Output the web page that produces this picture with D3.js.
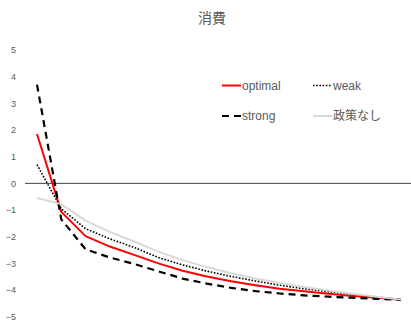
<!DOCTYPE html>
<html>
<head>
<meta charset="utf-8">
<script src="https://cdn.jsdelivr.net/npm/d3@7"></script>
<style>
  html, body { margin: 0; padding: 0; background: #fff; }
  svg { display: block; }
  text { font-family: "Liberation Sans", "Noto Sans CJK JP", sans-serif; }
</style>
</head>
<body>
<svg id="chart" width="411" height="324"></svg>
<script>
// Periods along the horizontal axis (not labelled)
const periods = d3.range(1, 17);

// Consumption paths per policy scenario
const optimal = [1.85, -1.07, -1.98, -2.37, -2.68, -3.00, -3.28, -3.49, -3.67, -3.82, -3.95, -4.05, -4.14, -4.22, -4.29, -4.36];
const weak    = [0.70, -0.95, -1.70, -2.08, -2.40, -2.78, -3.06, -3.29, -3.49, -3.66, -3.82, -3.95, -4.06, -4.16, -4.26, -4.35];
const strong  = [3.70, -1.35, -2.47, -2.78, -3.02, -3.30, -3.57, -3.76, -3.92, -4.04, -4.13, -4.20, -4.25, -4.29, -4.33, -4.37];
const noPolicy = [-0.55, -0.78, -1.40, -1.82, -2.18, -2.56, -2.88, -3.14, -3.37, -3.57, -3.74, -3.89, -4.02, -4.14, -4.25, -4.36];

const yTicks = [5, 4, 3, 2, 1, 0, -1, -2, -3, -4, -5];
const title = "消費";

const series = [
  { name: "optimal", values: optimal,  color: "#ff0000", width: 2,   dash: null,    lx: 222, ly: 85.5 },
  { name: "weak",    values: weak,     color: "#000000", width: 1.6, dash: "1.6,1.6", lx: 313, ly: 85.5 },
  { name: "strong",  values: strong,   color: "#000000", width: 2.2, dash: "7,5",   lx: 222, ly: 116 },
  { name: "政策なし", values: noPolicy, color: "#d9d9d9", width: 2,   dash: null,    lx: 313, ly: 116 }
];

const svg = d3.select("#chart");

const x = d3.scalePoint().domain(periods).range([37, 401]);
const y = d3.scaleLinear().domain([-5, 5]).range([316.7, 50]);

// Title
svg.append("text")
  .attr("x", 212).attr("y", 23)
  .attr("text-anchor", "middle")
  .attr("fill", "#595959")
  .style("font-size", "14px")
  .text(title);

// Value axis
const yAxis = d3.axisLeft(y).tickValues(yTicks).tickSize(0).tickPadding(0).tickFormat(d3.format("d"));
const gy = svg.append("g").attr("transform", "translate(16,0)").call(yAxis);
gy.select(".domain").remove();
gy.selectAll("text")
  .attr("fill", "#595959")
  .style("font-size", "9px")
  .style("font-family", "'Liberation Sans', sans-serif");

// Zero baseline
svg.append("line")
  .attr("x1", 25).attr("x2", 411)
  .attr("y1", y(0)).attr("y2", y(0))
  .attr("stroke", "#404040").attr("stroke-width", 1);

// Series lines
const line = d3.line()
  .x((d, i) => x(periods[i]))
  .y(d => y(d));

svg.append("g").selectAll("path")
  .data(series)
  .join("path")
  .attr("d", d => line(d.values))
  .attr("fill", "none")
  .attr("stroke", d => d.color)
  .attr("stroke-width", d => d.width)
  .attr("stroke-dasharray", d => d.dash)
  .attr("stroke-linejoin", "round");

// Legend
const lg = svg.append("g").selectAll("g")
  .data(series)
  .join("g")
  .attr("transform", d => `translate(${d.lx},${d.ly})`);

lg.append("line")
  .attr("x1", 0).attr("x2", 19)
  .attr("stroke", d => d.color)
  .attr("stroke-width", d => d.width)
  .attr("stroke-dasharray", d => d.dash);

lg.append("text")
  .attr("x", 20).attr("y", 4)
  .attr("fill", "#595959")
  .style("font-size", "12px")
  .text(d => d.name);
</script>
</body>
</html>
